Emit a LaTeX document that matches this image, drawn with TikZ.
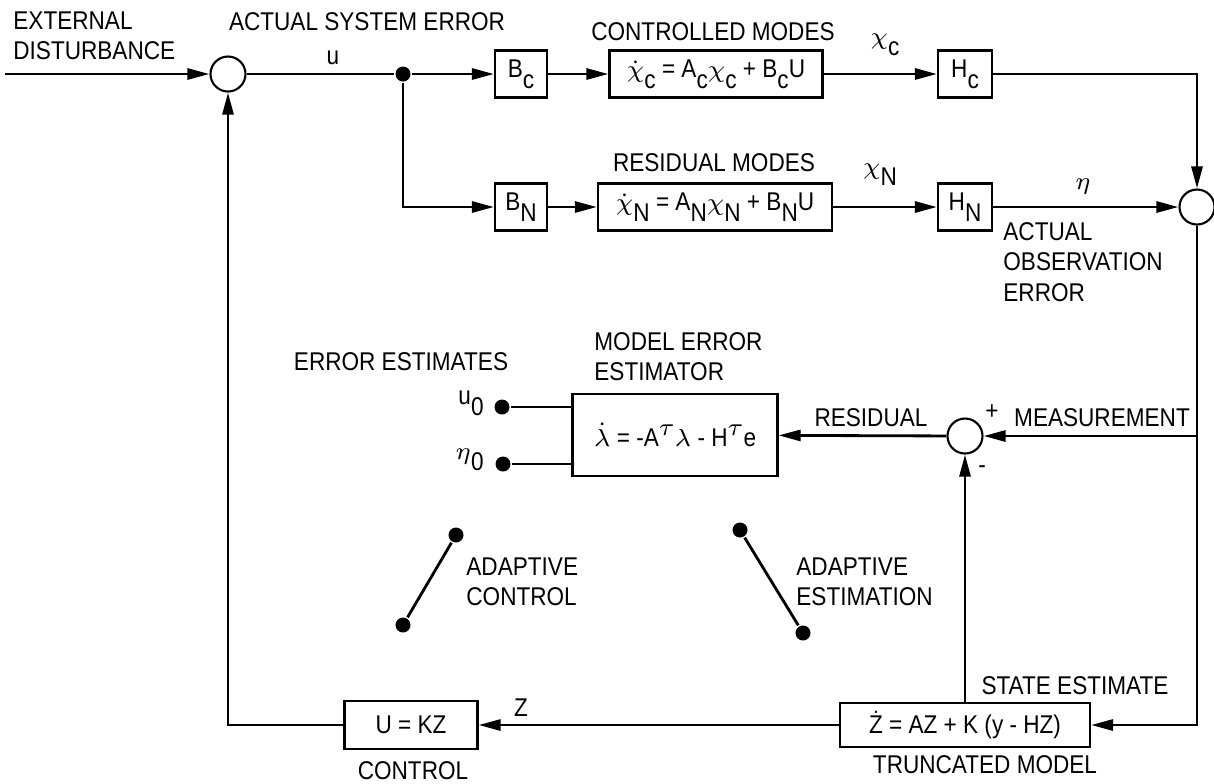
\documentclass[tikz,border=0pt]{standalone}
\usepackage{fontspec}
\setmainfont{Liberation Sans}[FakeStretch=0.88]
\usepackage{tikz}
\usetikzlibrary{arrows.meta}
\newcommand{\lo}[1]{\raisebox{-0.8ex}{#1}}
\newcommand{\hi}[1]{\raisebox{0.8ex}{#1}}
\newcommand{\dt}[1]{$\dot{\hbox{#1}}$}

\begin{document}
\begin{tikzpicture}[x=0.1mm,y=-0.1mm,
  >={Triangle[length=2.2mm,width=1.1mm]},
  font=\fontsize{7.3pt}{8.6pt}\selectfont,
  line width=0.8pt,
  blk/.style={draw,line width=0.6pt,inner sep=1pt,minimum height=4.7mm},
  sumc/.style={draw,circle,line width=0.6pt,inner sep=0pt,minimum size=3.5mm},
  dot/.style={circle,fill,inner sep=0pt,minimum size=1.5mm},
  lbl/.style={inner sep=0pt}]
\useasboundingbox (0,0) rectangle (1214,783);

% plant
\node[lbl,align=left,anchor=west] (ext) at (12,36) {EXTERNAL\\DISTURBANCE};
\coordinate (in) at (5,74);
\node[sumc] (s1) at (228,74) {};
\node[lbl] (ase) at (367,22) {ACTUAL SYSTEM ERROR};
\node[lbl] (u) at (333,58) {u};
\node[dot] (j) at (403,74) {};
\node[blk,minimum width=5.2mm] (bc) at (521,74) {B\lo{c}};
\node[blk,minimum width=21.3mm] (cm) at (716,74) {\dt{$\chi$}\lo{c} = A\lo{c}$\chi$\lo{c} + B\lo{c}U};
\node[lbl] (cmt) at (713,32) {CONTROLLED MODES};
\node[lbl] (xc) at (885,45) {$\chi$\lo{c}};
\node[blk,minimum width=5.4mm] (hc) at (965,74) {H\lo{c}};
\coordinate (tr) at (1197,74);
\node[sumc] (s2) at (1197,207) {};

\coordinate (jb) at (403,207);
\node[blk,minimum width=5.2mm] (bn) at (521,207) {B\lo{N}};
\node[blk,minimum width=23.4mm] (rm) at (715,207) {\dt{$\chi$}\lo{N} = A\lo{N}$\chi$\lo{N} + B\lo{N}U};
\node[lbl] (rmt) at (714,163) {RESIDUAL MODES};
\node[lbl] (xn) at (880,175) {$\chi$\lo{N}};
\node[blk,minimum width=5.4mm] (hn) at (965,207) {H\lo{N}};
\node[lbl] (eta) at (1083,187) {$\eta$};
\node[lbl,align=left,anchor=west] (aoe) at (1002,262) {ACTUAL\\OBSERVATION\\ERROR};

\draw[->] (in) -- (s1);
\draw (s1) -- (j);
\draw[->] (j) -- (bc);
\draw[->] (bc) -- (cm);
\draw[->] (cm) -- (hc);
\draw[->] (hc) -- (tr) -- (s2);
\draw[->] (j) -- (jb) -- (bn);
\draw[->] (bn) -- (rm);
\draw[->] (rm) -- (hn);
\draw[->] (hn) -- (s2);

% estimator
\coordinate (mb) at (1197,436);
\coordinate (br) at (1197,725);
\node[sumc] (s3) at (965,436) {};
\node[blk,minimum width=20.5mm,minimum height=8.2mm] (est) at (675,435) {$\dot\lambda$ = -A\hi{$\tau$}$\lambda$ - H\hi{$\tau$}e};
\node[lbl,align=left,anchor=west] (mee) at (593,357) {MODEL ERROR\\ESTIMATOR};
\node[lbl] (ees) at (401,362) {ERROR ESTIMATES};
\node[dot] (u0) at (502,407) {};
\node[dot] (e0) at (503,464) {};
\node[lbl,anchor=east] (u0t) at (485,403) {u\lo{0}};
\node[lbl,anchor=east] (e0t) at (485,460) {$\eta$\lo{0}};
\node[lbl] (res) at (871,418) {RESIDUAL};
\node[lbl] (pl) at (992,412) {+};
\node[lbl] (meas) at (1102,418) {MEASUREMENT};
\node[lbl] (mi) at (982,470) {-};

\draw (u0) -- (u0 -| est.west);
\draw (e0) -- (e0 -| est.west);
\draw (s2) -- (mb);
\draw[->] (mb) -- (s3);
\draw[->] (s3) -- (est);

% control loop
\node[blk,minimum width=25mm,minimum height=4.4mm] (tm) at (965,725) {Ż = AZ + K (y - HZ)};
\node[lbl] (tmt) at (985,765) {TRUNCATED MODEL};
\node[lbl] (se) at (1075,686) {STATE ESTIMATE};
\node[blk,minimum width=13.3mm,minimum height=4.8mm] (ctl) at (411,725) {U = KZ};
\node[lbl] (ctlt) at (413,771) {CONTROL};
\node[lbl] (z) at (521,708) {Z};
\coordinate (bl) at (228,725);

\draw[->] (mb) -- (br) -- (tm);
\draw[->] (tm) -- (s3);
\draw[->] (tm) -- (ctl);
\draw[->] (ctl) -- (bl) -- (s1);

% switches
\node[dot] (ac1) at (456,535) {};
\node[dot] (ac2) at (403,625) {};
\node[dot] (ae1) at (740,530) {};
\node[dot] (ae2) at (803,633) {};
\draw (ac1) -- (ac2);
\draw (ae1) -- (ae2);
\node[lbl,align=left,anchor=west] (act) at (465,582) {ADAPTIVE\\CONTROL};
\node[lbl,align=left,anchor=west] (aet) at (795,582) {ADAPTIVE\\ESTIMATION};
\end{tikzpicture}
\end{document}
